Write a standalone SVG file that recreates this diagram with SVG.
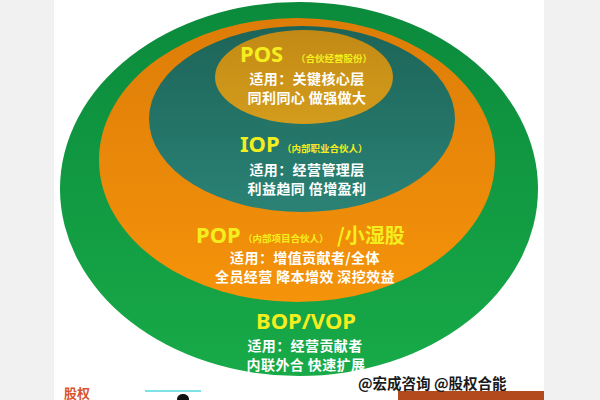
<svg xmlns="http://www.w3.org/2000/svg" width="600" height="400" viewBox="0 0 600 400">
<defs>
<linearGradient id="gGreen" x1="0" y1="0" x2="0" y2="1"><stop offset="0" stop-color="#0b8a3c"/><stop offset="1" stop-color="#18aa48"/></linearGradient>
<linearGradient id="gOrange" x1="0" y1="0" x2="0" y2="1"><stop offset="0" stop-color="#dd7d08"/><stop offset="1" stop-color="#f5930a"/></linearGradient>
<linearGradient id="gTeal" x1="0" y1="0" x2="0" y2="1"><stop offset="0" stop-color="#1d6458"/><stop offset="1" stop-color="#2a8275"/></linearGradient>
<linearGradient id="gGold" x1="0" y1="0" x2="0" y2="1"><stop offset="0" stop-color="#c28a14"/><stop offset="1" stop-color="#d49c1c"/></linearGradient>
<style>
.lat{font-family:"Noto Sans","Open Sans",sans-serif;font-weight:700;fill:#f5ee1e}
.sm{font-family:"Noto Sans CJK SC",sans-serif;font-weight:700;font-size:9.5px;fill:#f5ee1e}
.wt{font-family:"Noto Sans CJK SC",sans-serif;font-weight:700;font-size:14px;letter-spacing:0.4px;fill:#ffffff;text-anchor:middle}
.ft{font-family:"Noto Sans CJK SC",sans-serif;font-weight:700}
</style>
</defs>
<rect x="0" y="0" width="600" height="400" fill="#f1f1f1"/>
<rect x="54" y="0" width="490" height="400" fill="#ffffff"/>
<g id="bop">
<ellipse cx="299" cy="189" rx="239" ry="187" fill="url(#gGreen)"/>
</g>
<g id="pop">
<ellipse cx="297" cy="160" rx="198" ry="142" fill="url(#gOrange)"/>
</g>
<g id="iop">
<ellipse cx="302" cy="119" rx="153" ry="93" fill="url(#gTeal)"/>
</g>
<g id="pos">
<ellipse cx="304" cy="77" rx="89" ry="47" fill="url(#gGold)"/>
<text class="lat" x="240" y="62" font-size="22">POS</text>
<text class="sm" x="296" y="62">（合伙经营股份）</text>
<text class="wt" x="307" y="84">适用：关键核心层</text>
<text class="wt" x="307" y="103">同利同心 做强做大</text>
</g>
<g id="iop-text">
<text class="lat" x="240" y="152" font-size="22">IOP</text>
<text class="sm" x="282" y="152">（内部职业合伙人）</text>
<text class="wt" x="307" y="175">适用：经营管理层</text>
<text class="wt" x="307" y="194">利益趋同 倍增盈利</text>
</g>
<g id="pop-text">
<text class="lat" x="196" y="243" font-size="22">POP</text>
<text class="sm" x="243" y="242">（内部项目合伙人）</text>
<text class="ft" x="337" y="243" font-size="20" fill="#f5ee1e">/小湿股</text>
<text class="wt" x="305" y="263">适用：增值贡献者/全体</text>
<text class="wt" x="305" y="282">全员经营 降本增效 深挖效益</text>
</g>
<g id="bop-text">
<text class="lat" x="306" y="329" font-size="22" text-anchor="middle">BOP/VOP</text>
<text class="wt" x="305" y="351">适用：经营贡献者</text>
<text class="wt" x="306" y="370">内联外合 快速扩展</text>
</g>
<g id="footer">
<rect x="398" y="391" width="146" height="9" fill="#b34a1e"/>
<text class="ft" x="358" y="389" font-size="14.5" fill="#1a1a1a">@宏成咨询 @股权合能</text>
<text class="ft" x="64" y="398" font-size="13" fill="#d9542c">股权</text>
<rect x="145" y="390" width="56" height="2" fill="#7fe3e6"/>
<ellipse cx="183" cy="399" rx="6" ry="5" fill="#111111"/>
</g>
</svg>
